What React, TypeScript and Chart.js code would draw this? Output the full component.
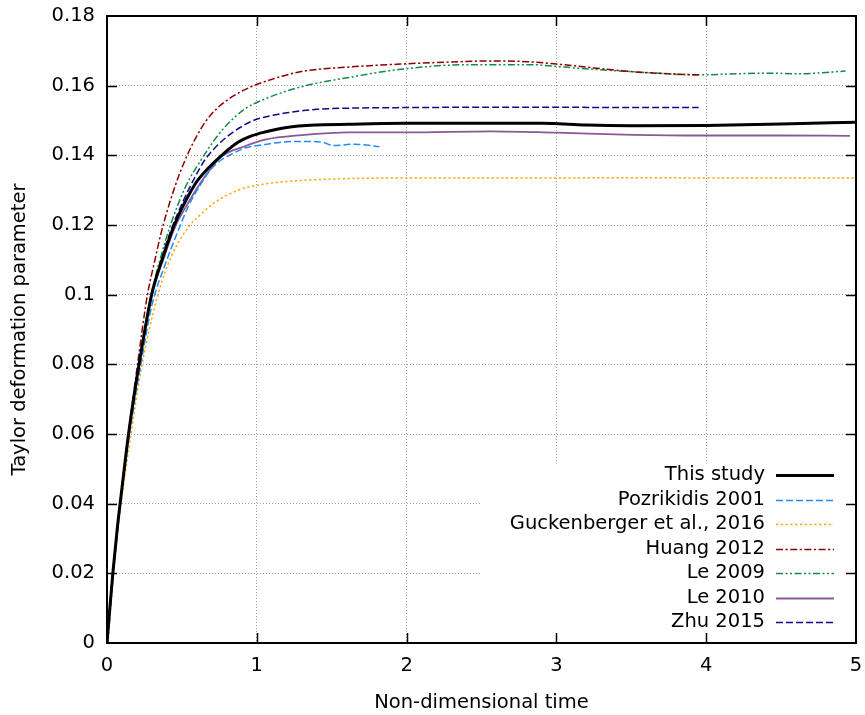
import { useEffect, useRef } from 'react';
import { Chart, registerables } from 'chart.js';

Chart.register(...registerables);

// ---------- data ----------
const xTickValues = [0, 1, 2, 3, 4, 5];
const yTickLabels = ['0', '0.02', '0.04', '0.06', '0.08', '0.1', '0.12', '0.14', '0.16', '0.18'];

const seriesLabels = [
  'This study',
  'Pozrikidis 2001',
  'Guckenberger et al., 2016',
  'Huang 2012',
  'Le 2009',
  'Le 2010',
  'Zhu 2015',
];

const studyT = [0, 0.02, 0.04, 0.07, 0.1, 0.147, 0.216, 0.298, 0.375, 0.454, 0.52, 0.6, 0.68, 0.76, 0.877, 0.96, 1.055, 1.2, 1.4, 1.7, 2.0, 2.5, 2.9, 3.05, 3.2, 3.5, 4.0, 4.5, 5.0];
const studyV = [0, 0.0105, 0.0205, 0.0335, 0.0445, 0.061, 0.0805, 0.1, 0.111, 0.1205, 0.1265, 0.1325, 0.1365, 0.1398, 0.1438, 0.1455, 0.1467, 0.148, 0.1487, 0.149, 0.1492, 0.1492, 0.1492, 0.149, 0.1487, 0.1485, 0.1486, 0.149, 0.1495];

const pozT = [0, 0.04, 0.1, 0.15, 0.22, 0.3, 0.4, 0.49, 0.55, 0.61, 0.69, 0.766, 0.84, 0.92, 1.055, 1.2, 1.38, 1.45, 1.51, 1.58, 1.65, 1.82];
const pozV = [0, 0.02, 0.044, 0.06, 0.0785, 0.097, 0.11, 0.12, 0.126, 0.1306, 0.1358, 0.1388, 0.1405, 0.1421, 0.1431, 0.1439, 0.144, 0.1436, 0.1428, 0.143, 0.1432, 0.1425];

const guckT = [0, 0.04, 0.1, 0.15, 0.23, 0.34, 0.43, 0.54, 0.62, 0.71, 0.877, 1.055, 1.3, 1.6, 2.0, 2.5, 3.0, 3.5, 4.0, 4.5, 5.0];
const guckV = [0, 0.0195, 0.042, 0.057, 0.079, 0.1, 0.111, 0.1192, 0.1228, 0.1262, 0.13, 0.1318, 0.1328, 0.1333, 0.1335, 0.1335, 0.1335, 0.1336, 0.1335, 0.1335, 0.1335];

const huangT = [0, 0.04, 0.1, 0.15, 0.21, 0.27, 0.315, 0.36, 0.443, 0.52, 0.59, 0.655, 0.73, 0.81, 0.967, 1.055, 1.29, 1.6, 1.96, 2.3, 2.56, 2.8, 3.0, 3.25, 3.51, 3.75, 3.95];
const huangV = [0, 0.0205, 0.045, 0.0625, 0.082, 0.1, 0.109, 0.1175, 0.1297, 0.1385, 0.1448, 0.1495, 0.1533, 0.1561, 0.1598, 0.1612, 0.164, 0.1653, 0.1662, 0.1668, 0.1671, 0.1669, 0.1662, 0.1651, 0.164, 0.1634, 0.1631];

const le09T = [0.005, 0.02, 0.04, 0.1, 0.147, 0.216, 0.295, 0.36, 0.42, 0.52, 0.63, 0.71, 0.79, 0.92, 1.055, 1.29, 1.62, 1.96, 2.4, 2.85, 3.0, 3.25, 3.51, 3.96, 4.2, 4.41, 4.63, 4.8, 4.93];
const le09V = [0, 0.008, 0.019, 0.044, 0.061, 0.0805, 0.1, 0.111, 0.1195, 0.1306, 0.1388, 0.144, 0.1483, 0.1533, 0.1562, 0.1596, 0.1624, 0.1647, 0.166, 0.166, 0.1655, 0.1647, 0.164, 0.1631, 0.1634, 0.1636, 0.1634, 0.1638, 0.1642];

const le10T = [0, 0.04, 0.1, 0.147, 0.216, 0.298, 0.375, 0.46, 0.53, 0.6, 0.68, 0.766, 0.92, 1.055, 1.3, 1.62, 2.0, 2.56, 3.0, 3.51, 3.96, 4.5, 4.96];
const le10V = [0, 0.0205, 0.0445, 0.061, 0.0805, 0.1, 0.11, 0.12, 0.1255, 0.1305, 0.1355, 0.1397, 0.1426, 0.1445, 0.1458, 0.1466, 0.1466, 0.1469, 0.1465, 0.1459, 0.1457, 0.1457, 0.1456];

const zhuT = [0, 0.04, 0.1, 0.147, 0.216, 0.298, 0.375, 0.44, 0.51, 0.577, 0.655, 0.74, 0.833, 0.967, 1.055, 1.2, 1.4, 1.7, 1.96, 2.5, 3.0, 3.5, 3.95];
const zhuV = [0, 0.0205, 0.0445, 0.061, 0.0805, 0.1, 0.112, 0.12, 0.127, 0.1329, 0.1388, 0.143, 0.1464, 0.1498, 0.151, 0.1522, 0.1532, 0.1536, 0.1537, 0.1538, 0.1538, 0.1537, 0.1537];

// ---------- helpers ----------
const pts = (t: number[], v: number[]) => t.map((x, i) => ({ x, y: v[i] }));
const FONT = '"DejaVu Sans", "Liberation Sans", sans-serif';

const frameAndKey = {
  id: 'frameAndKey',
  beforeDatasetsDraw(chart: any) {
    const { ctx, chartArea: a } = chart;
    const xs = chart.scales.x;
    const ys = chart.scales.y;
    // opaque key background (hides grid)
    const left = xs.getPixelForValue(2.49);
    const top = ys.getPixelForValue(0.0516);
    ctx.save();
    ctx.fillStyle = '#ffffff';
    ctx.fillRect(left, top, a.right - left, a.bottom - top);
    ctx.restore();
  },
  afterDatasetsDraw(chart: any) {
    const { ctx, chartArea: a } = chart;
    const xs = chart.scales.x;
    const ys = chart.scales.y;
    ctx.save();
    // frame
    ctx.strokeStyle = '#000';
    ctx.lineWidth = 2;
    ctx.setLineDash([]);
    ctx.strokeRect(a.left, a.top, a.right - a.left, a.bottom - a.top);
    // ticks (inward, mirrored)
    ctx.lineWidth = 1.5;
    const L = 10;
    xs.ticks.forEach((t: any) => {
      if (t.value <= xs.min || t.value >= xs.max) return;
      const px = Math.round(xs.getPixelForValue(t.value)) + 0.5;
      ctx.beginPath();
      ctx.moveTo(px, a.bottom);
      ctx.lineTo(px, a.bottom - L);
      ctx.moveTo(px, a.top);
      ctx.lineTo(px, a.top + L);
      ctx.stroke();
    });
    ys.ticks.forEach((t: any) => {
      if (t.value <= ys.min + 1e-9 || t.value >= ys.max - 1e-9) return;
      const py = Math.round(ys.getPixelForValue(t.value)) + 0.5;
      ctx.beginPath();
      ctx.moveTo(a.left, py);
      ctx.lineTo(a.left + L, py);
      ctx.moveTo(a.right, py);
      ctx.lineTo(a.right - L, py);
      ctx.stroke();
    });
    // key
    ctx.font = '19.5px ' + FONT;
    ctx.textAlign = 'right';
    ctx.textBaseline = 'middle';
    chart.data.datasets.forEach((ds: any, i: number) => {
      const y = a.bottom - 168 + i * 24.5;
      ctx.fillStyle = '#000';
      ctx.fillText(ds.label, a.right - 91, y);
      ctx.strokeStyle = ds.borderColor;
      ctx.lineWidth = ds.borderWidth;
      ctx.setLineDash(ds.borderDash || []);
      ctx.beginPath();
      ctx.moveTo(a.right - 80, Math.round(y) + 0.5);
      ctx.lineTo(a.right - 22, Math.round(y) + 0.5);
      ctx.stroke();
    });
    ctx.restore();
  },
};

export default function App() {
  const ref = useRef<HTMLCanvasElement | null>(null);

  useEffect(() => {
    if (!ref.current) return;
    const common = { pointRadius: 0, showLine: true, fill: false, cubicInterpolationMode: 'monotone' as const };
    const chart = new Chart(ref.current, {
      type: 'scatter',
      data: {
        datasets: [
          { ...common, label: seriesLabels[0], data: pts(studyT, studyV), borderColor: '#000000', borderWidth: 3, borderDash: [] },
          { ...common, label: seriesLabels[1], data: pts(pozT, pozV), borderColor: '#1e8cff', borderWidth: 1.5, borderDash: [7, 3] },
          { ...common, label: seriesLabels[2], data: pts(guckT, guckV), borderColor: '#ffa500', borderWidth: 1.5, borderDash: [2.2, 2.6] },
          { ...common, label: seriesLabels[3], data: pts(huangT, huangV), borderColor: '#8b0000', borderWidth: 1.5, borderDash: [7, 2.5, 2.2, 2.5] },
          { ...common, label: seriesLabels[4], data: pts(le09T, le09V), borderColor: '#138a45', borderWidth: 1.5, borderDash: [7, 2.5, 2, 2.5, 2, 2.5] },
          { ...common, label: seriesLabels[5], data: pts(le10T, le10V), borderColor: '#8a5896', borderWidth: 1.8, borderDash: [] },
          { ...common, label: seriesLabels[6], data: pts(zhuT, zhuV), borderColor: '#0c0c88', borderWidth: 1.5, borderDash: [7, 3] },
        ],
      },
      options: {
        responsive: false,
        animation: false,
        layout: { padding: { left: 0, right: 9, top: 16, bottom: 0 } },
        plugins: { legend: { display: false }, tooltip: { enabled: false } },
        scales: {
          x: {
            type: 'linear',
            min: 0,
            max: 5,
            afterFit: (s: any) => {
              s.height = 72;
              s.paddingLeft = 0;
              s.paddingRight = 0;
              s.paddingTop = 0;
              s.paddingBottom = 0;
            },
            afterBuildTicks: (s: any) => { s.ticks = xTickValues.map((v) => ({ value: v })); },
            ticks: {
              stepSize: 1,
              color: '#000',
              padding: 11,
              font: { family: FONT, size: 19.5 },
              callback: (v: any) => String(v),
            },
            grid: {
              drawTicks: false,
              lineWidth: 1,
              color: (c: any) => (c.tick && (c.tick.value <= 0 || c.tick.value >= 5) ? 'rgba(0,0,0,0)' : '#a0a0a0'),
            },
            border: { display: false, dash: [1, 2] },
            title: {
              display: true,
              text: 'Non-dimensional time',
              color: '#000',
              font: { family: FONT, size: 19.5, lineHeight: 1.2 },
              padding: { top: 0, bottom: 0 },
            },
          },
          y: {
            type: 'linear',
            min: 0,
            max: 0.18,
            afterFit: (s: any) => {
              s.width = 107;
              s.paddingLeft = 0;
              s.paddingRight = 0;
              s.paddingTop = 0;
              s.paddingBottom = 0;
            },
            afterBuildTicks: (s: any) => { s.ticks = yTickLabels.map((l) => ({ value: Number(l) })); },
            ticks: {
              color: '#000',
              padding: 12,
              font: { family: FONT, size: 19.5 },
              callback: (_v: any, i: number) => yTickLabels[i],
            },
            grid: {
              drawTicks: false,
              lineWidth: 1,
              color: (c: any) => (c.tick && (c.tick.value <= 1e-9 || c.tick.value >= 0.18 - 1e-9) ? 'rgba(0,0,0,0)' : '#a0a0a0'),
            },
            border: { display: false, dash: [1, 2] },
            title: {
              display: true,
              text: 'Taylor deformation parameter',
              color: '#000',
              font: { family: FONT, size: 19.5, lineHeight: 1.2 },
              padding: { top: 8, bottom: 0 },
            },
          },
        },
      },
      plugins: [frameAndKey],
    });
    return () => chart.destroy();
  }, []);

  return (
    <div style={{ position: 'fixed', left: 0, top: 0, width: 865, height: 715, background: '#fff' }}>
      <canvas ref={ref} width={865} height={715} style={{ width: 865, height: 715, display: 'block' }} />
    </div>
  );
}
